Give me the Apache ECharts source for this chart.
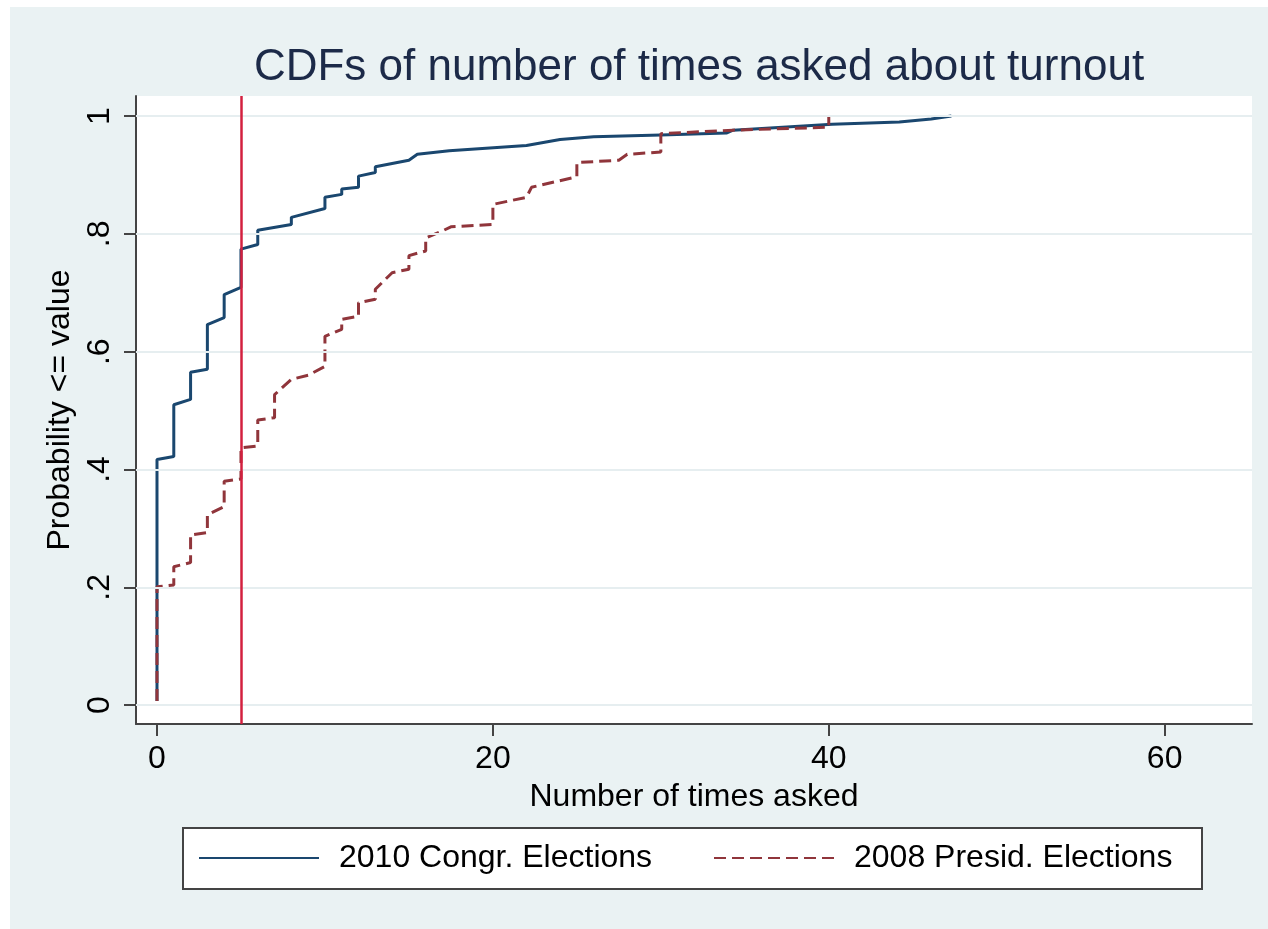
<!DOCTYPE html>
<html>
<head>
<meta charset="utf-8">
<script src="https://cdn.jsdelivr.net/npm/echarts@6/dist/echarts.min.js"></script>
<style>
  html, body { margin: 0; padding: 0; background: #ffffff; width: 1268px; height: 929px; overflow: hidden; }
  #chart { position: absolute; left: 10px; top: 7px; width: 1258px; height: 922px; }
</style>
</head>
<body>
<div id="chart"></div>
<script>
// ---- data ----
const titleText = 'CDFs of number of times asked about turnout';
const xAxisTitle = 'Number of times asked';
const yAxisTitle = 'Probability <= value';
const seriesNames = ['2010 Congr. Elections', '2008 Presid. Elections'];
const xTicks = [0, 20, 40, 60];
const yTicks = [0, 0.2, 0.4, 0.6, 0.8, 1];
const refLineX = 5;

const congrX = [0, 0, 1, 1, 2, 2, 3, 3, 4, 4, 5, 5, 6, 6, 8, 8, 10, 10, 11, 11, 12, 12, 13, 13, 15, 15.5, 17.4, 22, 24, 26, 30, 33.9, 34.3, 40.2, 44.2, 46.1, 47.3];
const congrY = [0.007, 0.417, 0.422, 0.510, 0.519, 0.565, 0.570, 0.646, 0.658, 0.697, 0.709, 0.774, 0.782, 0.806, 0.816, 0.828, 0.843, 0.862, 0.867, 0.876, 0.879, 0.898, 0.904, 0.914, 0.925, 0.935, 0.941, 0.950, 0.960, 0.965, 0.968, 0.971, 0.976, 0.986, 0.990, 0.995, 1.0];

const presidX = [0, 0, 1, 1, 2, 2, 3, 3, 4, 4, 5, 5, 6, 6, 7, 7, 8, 9, 10, 10, 11, 11, 12, 12, 13, 13, 14, 15, 15, 16, 16, 17, 17.5, 20, 20, 22, 22.3, 25, 25, 27.5, 28, 30, 30, 34.3, 40, 40];
const presidY = [0.007, 0.201, 0.204, 0.235, 0.242, 0.289, 0.293, 0.323, 0.337, 0.380, 0.384, 0.437, 0.440, 0.484, 0.488, 0.527, 0.553, 0.560, 0.575, 0.626, 0.638, 0.655, 0.660, 0.683, 0.689, 0.706, 0.734, 0.740, 0.763, 0.771, 0.793, 0.805, 0.812, 0.816, 0.850, 0.862, 0.879, 0.897, 0.921, 0.925, 0.935, 0.939, 0.970, 0.976, 0.981, 1.0];

// ---- chart ----
const BG = '#eaf2f3';
const BLUE = '#1a476f';
const RED = '#90353b';
const FONT = '"Liberation Sans", Arial, Helvetica, sans-serif';

const pair = (xs, ys) => xs.map((x, i) => [x, ys[i]]);
const fmtY = v => (v === 0 ? '0' : v === 1 ? '1' : String(v).replace(/^0/, ''));

const chart = echarts.init(document.getElementById('chart'), null, { renderer: 'canvas' });

const legendBase = {
  padding: 0,
  top: 835,
  itemWidth: 120,
  itemHeight: 14,
  itemStyle: { opacity: 0 },
  textStyle: { fontFamily: FONT, fontSize: 32, color: '#000', padding: [0, 0, 0, 15] }
};

const option = {
  backgroundColor: BG,
  animation: false,
  textStyle: { fontFamily: FONT },
  title: {
    text: titleText,
    left: 684,
    top: 34,
    textAlign: 'center',
    textStyle: { fontFamily: FONT, fontSize: 44, fontWeight: 'normal', color: '#1c2a48' }
  },
  grid: {
    left: 126,
    right: 16,
    top: 89,
    bottom: 205,
    show: true,
    backgroundColor: '#ffffff',
    borderWidth: 0
  },
  xAxis: {
    type: 'value',
    min: -1.25,
    max: 65.2,
    name: xAxisTitle,
    nameLocation: 'middle',
    nameGap: 57,
    nameTextStyle: { fontFamily: FONT, fontSize: 32, color: '#000' },
    axisLine: { show: true, onZero: false, lineStyle: { color: '#444', width: 2 } },
    axisTick: { show: true, length: 12, customValues: xTicks, lineStyle: { color: '#444', width: 2 } },
    axisLabel: { customValues: xTicks, fontFamily: FONT, fontSize: 32, color: '#000', margin: 19 },
    splitLine: { show: false }
  },
  yAxis: {
    type: 'value',
    min: -0.032,
    max: 1.034,
    name: yAxisTitle,
    nameLocation: 'middle',
    nameGap: 56,
    nameRotate: 90,
    nameTextStyle: { fontFamily: FONT, fontSize: 32, color: '#000' },
    axisLine: { show: true, onZero: false, lineStyle: { color: '#444', width: 2 } },
    axisTick: { show: true, length: 12, customValues: yTicks, lineStyle: { color: '#444', width: 2 } },
    axisLabel: { customValues: yTicks, rotate: 90, formatter: fmtY, fontFamily: FONT, fontSize: 32, color: '#000', margin: 20 },
    splitLine: { show: false }
  },
  legend: [
    Object.assign({}, legendBase, { data: [seriesNames[0]], left: 188 }),
    Object.assign({}, legendBase, { data: [seriesNames[1]], left: 703 })
  ],
  graphic: [
    {
      type: 'rect',
      z: -1,
      shape: { x: 173, y: 821, width: 1019, height: 61 },
      style: { fill: '#ffffff', stroke: '#444', lineWidth: 2 }
    }
  ],
  series: [
    {
      type: 'line',
      data: [],
      z: 1,
      silent: true,
      markLine: {
        silent: true,
        symbol: ['none', 'none'],
        label: { show: false },
        lineStyle: { color: '#e6eef0', width: 2, type: 'solid' },
        data: yTicks.map(v => ({ yAxis: v }))
      }
    },
    {
      type: 'line',
      data: [],
      z: 2,
      silent: true,
      markLine: {
        silent: true,
        symbol: ['none', 'none'],
        label: { show: false },
        lineStyle: { color: '#d3203f', width: 2.5, type: 'solid' },
        data: [{ xAxis: refLineX }]
      }
    },
    {
      name: seriesNames[0],
      type: 'line',
      data: pair(congrX, congrY),
      showSymbol: false,
      symbol: 'none',
      z: 3,
      lineStyle: { color: BLUE, width: 3 },
      itemStyle: { color: BLUE }
    },
    {
      name: seriesNames[1],
      type: 'line',
      data: pair(presidX, presidY),
      showSymbol: false,
      symbol: 'none',
      z: 4,
      lineStyle: { color: RED, width: 3, type: [12, 6] },
      itemStyle: { color: RED }
    }
  ]
};

chart.setOption(option);
</script>
</body>
</html>
